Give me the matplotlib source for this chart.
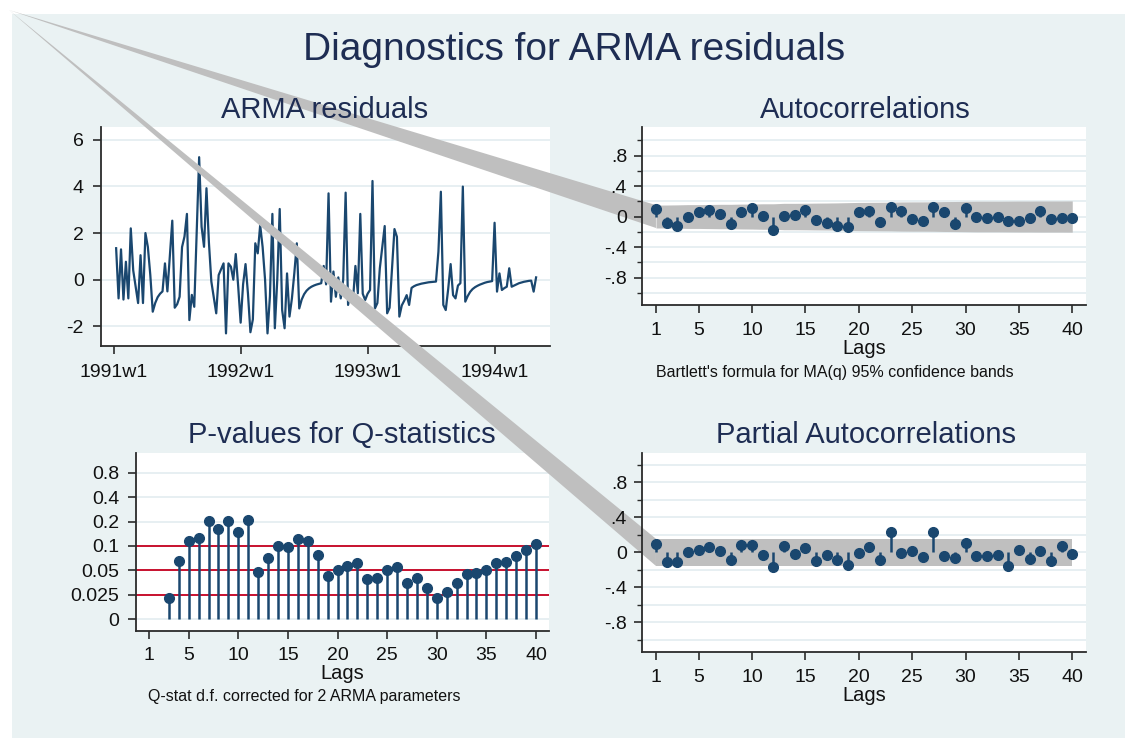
import numpy as np
import matplotlib
matplotlib.use('Agg')
import matplotlib.pyplot as plt
from matplotlib.patches import Polygon, Rectangle

plt.rcParams['font.family'] = ['Liberation Sans', 'DejaVu Sans']
plt.rcParams['axes.unicode_minus'] = False

# ---------------- data ----------------
week_index = list(range(1, 174))
residuals = [
    1.35, -0.8, 1.3, -0.85, 0.77, -0.8, 2.2, 0.4, -0.3, -1.0,
    1.05, -1.0, 2.0, 1.4, 0.2, -1.37, -1.0, -0.75, -0.6, -0.5,
    0.7, -0.5, 1.0, 2.53, -1.2, -1.05, -0.73, 1.4, 1.85, 2.82,
    -1.73, -0.65, -1.16, 2.0, 5.25, 2.27, 1.41, 3.92, 1.6, -0.08,
    -0.75, -1.44, 0.2, 0.45, 0.7, -2.3, 0.7, 0.56, 0.0, 1.1,
    -0.3, -1.84, -0.2, 0.67, -0.6, -2.25, -1.7, 1.56, 1.13, 2.34,
    1.4, 0.0, -2.3, -0.7, 2.82, -2.08, 0.0, 3.03, -1.3, -2.08,
    0.27, -1.58, -0.8, 0.3, 1.56, -1.23, -0.85, -0.62, -0.47, -0.37,
    -0.3, -0.25, -0.21, -0.18, -0.15, 0.59, -0.2, 3.7, -0.94, 0.35,
    -0.73, 0.1, -0.8, 0.0, 3.73, -1.08, -0.5, -0.9, 0.59, -0.58,
    2.82, -0.6, -0.87, -0.6, -0.44, 4.23, -1.23, -1.0, 0.49, 1.4,
    2.3, -1.44, -1.2, 0.5, 2.17, 1.84, -1.58, -1.1, -0.9, -0.66,
    -1.08, -0.35, -0.28, -0.23, -0.2, -0.17, -0.15, -0.13, -0.11, -0.1,
    -0.09, -0.08, 1.2, 3.77, -1.08, -1.3, -0.4, 0.67, -0.66, -0.8,
    -0.25, -0.15, 3.99, -0.94, -0.7, -0.52, -0.4, -0.32, -0.26, -0.21,
    -0.17, -0.13, -0.1, -0.08, -0.06, 2.44, -0.51, 0.27, -0.44, -0.36,
    -0.3, 0.49, -0.3, -0.25, -0.2, -0.15, -0.12, -0.09, -0.07, -0.05,
    -0.04, -0.51, 0.1,
]
date_ticks = [0, 52, 104, 156]
date_labels = ['1991w1', '1992w1', '1993w1', '1994w1']
resid_ticks = [-2, 0, 2, 4, 6]

lags = list(range(1, 41))
acf = [0.096, -0.087, -0.12, 0.0, 0.057, 0.087, 0.03, -0.10, 0.057, 0.118,
       0.01, -0.18, 0.013, 0.017, 0.087, -0.04, -0.087, -0.12, -0.135, 0.057,
       0.074, -0.066, 0.13, 0.079, -0.03, -0.057, 0.122, 0.057, -0.10, 0.118,
       -0.01, -0.02, 0.0, -0.057, -0.057, -0.013, 0.07, -0.026, -0.02, -0.017]
acf_band = [0.150, 0.151, 0.153, 0.156, 0.156, 0.158, 0.160, 0.160, 0.163, 0.164,
            0.167, 0.167, 0.173, 0.173, 0.174, 0.176, 0.177, 0.179, 0.182, 0.185,
            0.186, 0.187, 0.188, 0.191, 0.192, 0.192, 0.193, 0.196, 0.197, 0.199,
            0.201, 0.201, 0.201, 0.202, 0.203, 0.203, 0.204, 0.204, 0.204, 0.205]
pacf = [0.091, -0.106, -0.106, 0.004, 0.027, 0.061, 0.019, -0.087, 0.084, 0.087,
        -0.03, -0.171, 0.072, -0.015, 0.053, -0.099, -0.034, -0.087, -0.148, -0.008,
        0.061, -0.087, 0.228, -0.011, 0.011, -0.053, 0.236, -0.042, -0.068, 0.103,
        -0.042, -0.038, -0.034, -0.16, 0.03, -0.08, 0.015, -0.099, 0.076, -0.015]
pacf_band = 0.155
corr_ticks = [-0.8, -0.4, 0, 0.4, 0.8]
corr_labels = ['-.8', '-.4', '0', '.4', '.8']
corr_minor = [-1.0, -0.6, -0.2, 0.2, 0.6, 1.0]

q_lags = list(range(3, 41))
q_pvalues = [0.0212, 0.065, 0.1165, 0.1266, 0.2015, 0.1624, 0.206, 0.1505, 0.211, 0.048,
             0.0717, 0.1007, 0.098, 0.122, 0.1165, 0.078, 0.0429, 0.0504, 0.056, 0.0624,
             0.0387, 0.0398, 0.05, 0.0555, 0.0349, 0.0406, 0.0299, 0.022, 0.0272, 0.0346,
             0.0447, 0.0467, 0.0504, 0.0624, 0.0628, 0.0753, 0.0895, 0.1058]
p_ref_lines = [0.025, 0.05, 0.1]
p_ticks = [0, 0.025, 0.05, 0.1, 0.2, 0.4, 0.8]
p_tick_labels = ['0', '0.025', '0.05', '0.1', '0.2', '0.4', '0.8']
lag_ticks = [1, 5, 10, 15, 20, 25, 30, 35, 40]

# ---------------- style ----------------
W, H = 1125, 738
BG = '#EAF2F3'
NAVY = '#1A476F'
TITLE_C = '#1E2D53'
GRID = '#E5EEF1'
BAND = '#BFBFBF'
RED = '#C8102E'
AX_C = '#2B2B2B'

fig = plt.figure(figsize=(W / 100, H / 100), dpi=100)
fig.patch.set_facecolor('white')
fig.add_artist(Rectangle((12 / W, 0), 1 - 12 / W, (H - 14) / H, transform=fig.transFigure,
                         facecolor=BG, edgecolor='none', zorder=-5))


def add_ax(x0, y0, x1, y1):
    return fig.add_axes([x0 / W, 1 - y1 / H, (x1 - x0) / W, (y1 - y0) / H])


def style(ax):
    ax.set_facecolor('white')
    for s in ['top', 'right']:
        ax.spines[s].set_visible(False)
    for s in ['left', 'bottom']:
        ax.spines[s].set_color(AX_C)
        ax.spines[s].set_linewidth(1.3)
    ax.tick_params(direction='out', length=6, width=1.2, color=AX_C,
                   labelsize=14, labelcolor='#111111', pad=5)
    ax.tick_params(axis='y', which='minor', length=3.5, width=1.0, color=AX_C)


def ftext(x, y, s, size, color='#111111'):
    fig.text(x / W, 1 - y / H, s, ha='center', va='center', fontsize=size, color=color)


def lags_label(ax):
    ax.set_xlabel('Lags', fontsize=14.5, color='#111111', labelpad=0)


fig.text(574 / W, 1 - 50 / H, 'Diagnostics for ARMA residuals', ha='center', va='center',
         fontsize=28, color=TITLE_C)

# ---- top-left: residual series ----
ax1 = add_ax(100.5, 127.3, 550, 346)
style(ax1)
for t in resid_ticks:
    ax1.axhline(t, color=GRID, lw=1.3, zorder=0)
ax1.plot(week_index, residuals, color=NAVY, lw=1.6, zorder=3)
ax1.set_xlim(-5.4, 178.7)
ax1.set_ylim(-2.84, 6.53)
ax1.set_xticks(date_ticks)
ax1.set_xticklabels(date_labels)
ax1.set_yticks(resid_ticks)
ax1.set_yticklabels([str(t) for t in resid_ticks])
ax1.tick_params(axis='y', pad=6)
ax1.tick_params(axis='x', pad=7)
ftext(325, 110, 'ARMA residuals', 21, TITLE_C)

# ---- bottom-left: p-values ----
def fwd(p):
    p = np.asarray(p, dtype=float)
    return np.where(p <= 0.025, p / 0.025, 1 + np.log2(np.maximum(p, 0.025) / 0.025))


def inv(y):
    y = np.asarray(y, dtype=float)
    return np.where(y <= 1, y * 0.025, 0.025 * 2 ** (np.maximum(y, 1) - 1))


ax3 = add_ax(135.7, 453.3, 549.3, 630.7)
style(ax3)
ax3.set_yscale('function', functions=(fwd, inv))
ax3.set_ylim(-0.012, 1.40)
ax3.set_xlim(-0.34, 41.34)
for t in p_ticks:
    ax3.axhline(t, color=GRID, lw=1.3, zorder=0)
for r in p_ref_lines:
    ax3.axhline(r, color=RED, lw=1.4, zorder=1)
ax3.vlines(q_lags, 0, q_pvalues, color=NAVY, lw=1.8, zorder=2)
ax3.plot(q_lags, q_pvalues, 'o', color=NAVY, ms=7, zorder=3)
ax3.set_yticks(p_ticks)
ax3.set_yticklabels(p_tick_labels)
ax3.yaxis.set_minor_locator(matplotlib.ticker.NullLocator())
ax3.set_xticks(lag_ticks)
ax3.set_xticklabels([str(t) for t in lag_ticks])
ax3.tick_params(axis='y', pad=6)
ax3.tick_params(axis='x', pad=6)
lags_label(ax3)
ftext(342, 435, 'P-values for Q-statistics', 21, TITLE_C)
ftext(304, 697, 'Q-stat d.f. corrected for 2 ARMA parameters', 11.5)

# ---- top-right: ACF ----
ax2 = add_ax(642.3, 127.3, 1085.7, 305)
style(ax2)
ax2.set_xlim(-0.28, 41.26)
ax2.set_ylim(-1.16, 1.17)
for t in corr_ticks + corr_minor:
    ax2.axhline(t, color=GRID, lw=1.3, zorder=0)
ax2.fill_between(lags, [-b for b in acf_band], acf_band, color=BAND, lw=0, zorder=1)
ax2.vlines(lags, 0, acf, color=NAVY, lw=1.8, zorder=2)
ax2.plot(lags, acf, 'o', color=NAVY, ms=7, zorder=3)
ax2.set_yticks(corr_ticks)
ax2.set_yticklabels(corr_labels)
ax2.set_yticks(corr_minor, minor=True)
ax2.set_xticks(lag_ticks)
ax2.set_xticklabels([str(t) for t in lag_ticks])
ax2.tick_params(axis='x', pad=6)
lags_label(ax2)
ftext(865, 110, 'Autocorrelations', 21, TITLE_C)
ftext(835, 372, "Bartlett's formula for MA(q) 95% confidence bands", 11.5)

# ---- bottom-right: PACF ----
ax4 = add_ax(642.3, 453.3, 1085.7, 652.3)
style(ax4)
ax4.set_xlim(-0.28, 41.26)
ax4.set_ylim(-1.14, 1.13)
for t in corr_ticks + corr_minor:
    ax4.axhline(t, color=GRID, lw=1.3, zorder=0)
ax4.fill_between(lags, -pacf_band, pacf_band, color=BAND, lw=0, zorder=1)
ax4.vlines(lags, 0, pacf, color=NAVY, lw=1.8, zorder=2)
ax4.plot(lags, pacf, 'o', color=NAVY, ms=7, zorder=3)
ax4.set_yticks(corr_ticks)
ax4.set_yticklabels(corr_labels)
ax4.set_yticks(corr_minor, minor=True)
ax4.set_xticks(lag_ticks)
ax4.set_xticklabels([str(t) for t in lag_ticks])
ax4.tick_params(axis='x', pad=6)
lags_label(ax4)
ftext(866, 435, 'Partial Autocorrelations', 21, TITLE_C)

# ---- stray band wedges running to the top-left corner ----
apex = (9 / W, 1 - 10 / H)
inv_fig = fig.transFigure.inverted()


def wedge(ax, top, bot):
    pts = inv_fig.transform(ax.transData.transform([(lags[0], top), (lags[0], bot)]))
    poly = Polygon([apex, tuple(pts[0]), tuple(pts[1])], closed=True, facecolor=BAND,
                   edgecolor='none', transform=fig.transFigure, clip_on=False, zorder=1)
    ax.add_patch(poly)


wedge(ax2, acf_band[0], -acf_band[0])
wedge(ax4, pacf_band, -pacf_band)

fig.savefig('out.png', dpi=100)
